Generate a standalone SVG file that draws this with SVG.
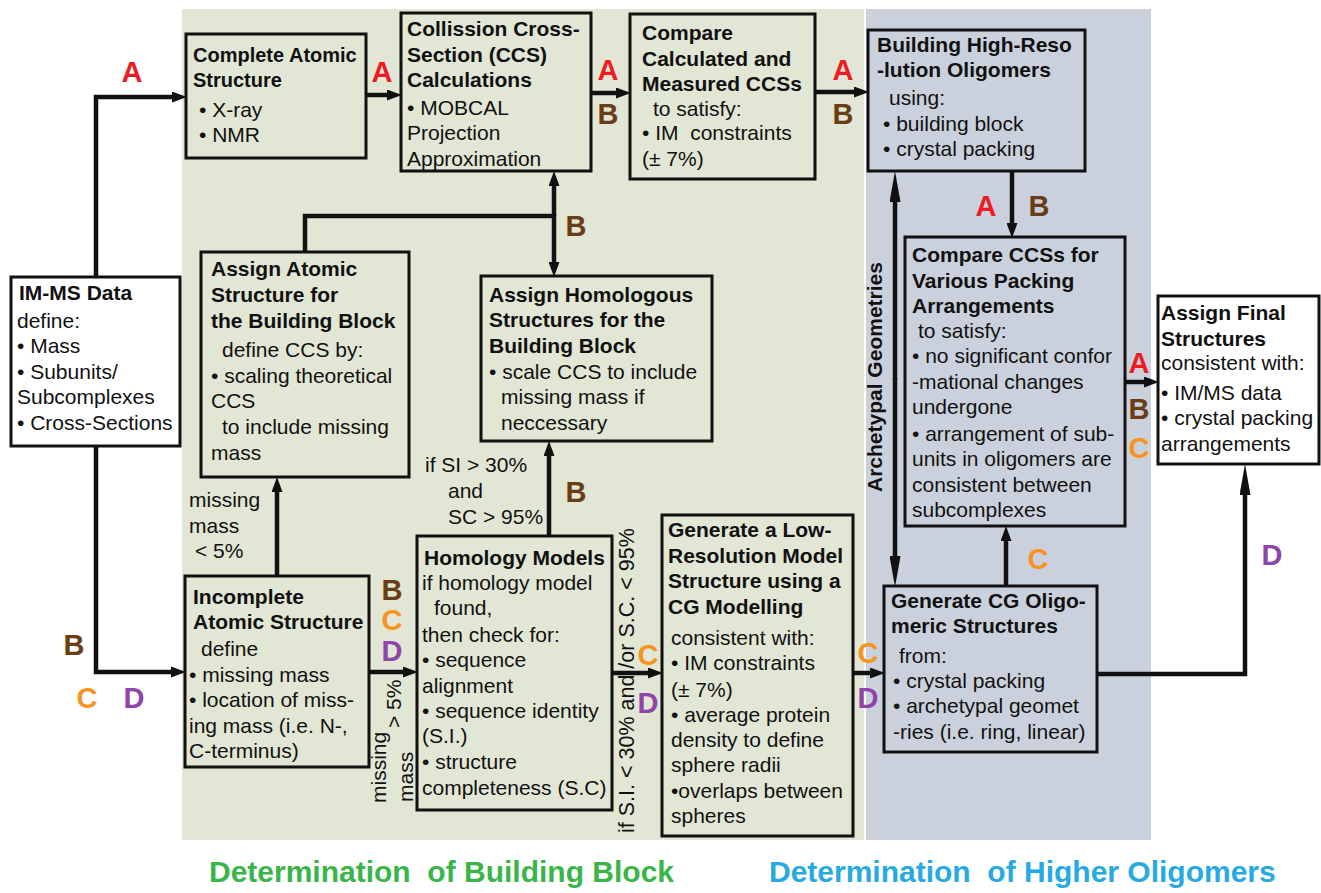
<svg xmlns="http://www.w3.org/2000/svg" width="1321" height="893" viewBox="0 0 1321 893">
<style>
text{font-family:"Liberation Sans",Arial,sans-serif;fill:#111}
.t{font-size:21px;font-weight:bold}
.b{font-size:21px}
.box{stroke:#111;stroke-width:3;fill:none}
.wbox{stroke:#111;stroke-width:3;fill:#fff}
.c{stroke:#111;stroke-width:4.5;fill:none}
.l{font-size:29px;font-weight:bold;text-anchor:middle}
.A{fill:#ed1c24}.B{fill:#6a3d14}.C{fill:#f7941d}.D{fill:#8e44a8}
.big{font-size:30px;font-weight:bold}
</style>
<defs>
<marker id="s" markerUnits="userSpaceOnUse" markerWidth="15" markerHeight="11" refX="0" refY="5.5" orient="auto"><path d="M0,0 L15,5.5 L0,11 z" fill="#111"/></marker>
<marker id="L" markerUnits="userSpaceOnUse" markerWidth="31" markerHeight="11" refX="0" refY="5.5" orient="auto"><path d="M0,0 L31,5.5 L0,11 z" fill="#111"/></marker>
</defs>
<rect width="1321" height="893" fill="#fff"/>
<g id="panels">
<rect x="182" y="9" width="682" height="831" fill="#e2e6d4"/>
<rect x="866" y="9" width="285" height="831" fill="#cbd1dc"/>
</g>
<g id="connectors">
<path class="c" d="M96,277 V97 H172" marker-end="url(#s)"/>
<path class="c" d="M96,446 V672 H171" marker-end="url(#s)"/>
<path class="c" d="M366,95 H387" marker-end="url(#s)"/>
<path class="c" d="M591,93 H616" marker-end="url(#s)"/>
<path class="c" d="M815,92 H854" marker-end="url(#s)"/>
<path class="c" d="M305,252 V216 H554"/>
<path class="c" d="M554,216 V186" marker-end="url(#s)"/>
<path class="c" d="M554,214 V262" marker-end="url(#s)"/>
<path class="c" d="M549,536 V456" marker-end="url(#s)"/>
<path class="c" d="M277,576 V492" marker-end="url(#s)"/>
<path class="c" d="M369,672 H403" marker-end="url(#s)"/>
<path class="c" d="M612,673 H648" marker-end="url(#s)"/>
<path class="c" d="M853,673 H870" marker-end="url(#s)"/>
<path class="c" d="M1012,171 V223" marker-end="url(#s)"/>
<path class="c" d="M1006,586 V541" marker-end="url(#s)"/>
<path class="c" d="M895,380 V202" marker-end="url(#L)"/>
<path class="c" d="M895,378 V556" marker-end="url(#L)"/>
<path class="c" d="M1125,382 H1144" marker-end="url(#s)"/>
<path class="c" d="M1097,674 H1245 V495" marker-end="url(#L)"/>
</g>
<g id="labels">
<text class="l A" x="132" y="82">A</text>
<text class="l A" x="382" y="82">A</text>
<text class="l A" x="608" y="80">A</text>
<text class="l B" x="608" y="124">B</text>
<text class="l A" x="843" y="80">A</text>
<text class="l B" x="843" y="124">B</text>
<text class="l B" x="576" y="236">B</text>
<text class="l A" x="986" y="216">A</text>
<text class="l B" x="1039" y="216">B</text>
<text class="l A" x="1139" y="373">A</text>
<text class="l B" x="1139" y="419">B</text>
<text class="l C" x="1139" y="458">C</text>
<text class="l C" x="1038" y="569">C</text>
<text class="l D" x="1272" y="565">D</text>
<text class="l C" x="868" y="663">C</text>
<text class="l D" x="868" y="708">D</text>
<text class="l C" x="648" y="665">C</text>
<text class="l D" x="648" y="713">D</text>
<text class="l B" x="392" y="600">B</text>
<text class="l C" x="392" y="630">C</text>
<text class="l D" x="392" y="661">D</text>
<text class="l B" x="74" y="655">B</text>
<text class="l C" x="87" y="708">C</text>
<text class="l D" x="134" y="708">D</text>
<text class="l B" x="576" y="502">B</text>
<text class="b" x="189" y="507">missing</text>
<text class="b" x="189" y="533">mass</text>
<text class="b" x="195" y="558">&lt; 5%</text>
<text class="b" x="425" y="472">if SI &gt; 30%</text>
<text class="b" x="448" y="498">and</text>
<text class="b" x="448" y="524">SC &gt; 95%</text>
<text class="b" transform="translate(386,803) rotate(-90)">missing</text>
<text class="b" transform="translate(401,728) rotate(-90)">&gt; 5%</text>
<text class="b" transform="translate(413,802) rotate(-90)">mass</text>
<text class="b" style="font-size:21.5px" transform="translate(634,833) rotate(-90)">if S.I. &lt; 30% and /or S.C. &lt; 95%</text>
<text class="t" transform="translate(882,492) rotate(-90)">Archetypal Geometries</text>
<text class="big" x="209" y="882" fill="#39b54a" style="fill:#39b54a" xml:space="preserve">Determination  of Building Block</text>
<text class="big" x="769" y="882" style="fill:#27aae1" xml:space="preserve">Determination  of Higher Oligomers</text>
</g>
<g id="n-complete">
<rect class="box" x="186" y="34" width="180" height="124"/>
<text class="t" x="193" y="62" style="font-size:20px">Complete Atomic</text>
<text class="t" x="193" y="87" style="font-size:20px">Structure</text>
<text class="b" x="199" y="117">• X-ray</text>
<text class="b" x="199" y="142">• NMR</text>
</g>
<g id="n-ccs">
<rect class="box" x="401" y="13" width="190" height="158"/>
<text class="t" x="407" y="36">Collission Cross-</text>
<text class="t" x="407" y="62">Section (CCS)</text>
<text class="t" x="407" y="87">Calculations</text>
<text class="b" x="407" y="115">• MOBCAL</text>
<text class="b" x="407" y="140">Projection</text>
<text class="b" x="407" y="166">Approximation</text>
</g>
<g id="n-compare">
<rect class="box" x="630" y="14" width="185" height="165"/>
<text class="t" x="642" y="40">Compare</text>
<text class="t" x="642" y="66">Calculated and</text>
<text class="t" x="642" y="91">Measured CCSs</text>
<text class="b" x="653" y="116">to satisfy:</text>
<text class="b" x="642" y="140" xml:space="preserve">• IM  constraints</text>
<text class="b" x="642" y="166">(± 7%)</text>
</g>
<g id="n-building">
<rect class="box" x="868" y="30" width="217" height="141"/>
<text class="t" x="877" y="52">Building High-Reso</text>
<text class="t" x="877" y="77">-lution Oligomers</text>
<text class="b" x="889" y="105">using:</text>
<text class="b" x="883" y="131">• building block</text>
<text class="b" x="883" y="156">• crystal packing</text>
</g>
<g id="n-immsdata">
<rect class="wbox" x="11" y="277" width="169" height="169"/>
<text class="t" x="19" y="300">IM-MS Data</text>
<text class="b" x="17" y="328">define:</text>
<text class="b" x="17" y="353">• Mass</text>
<text class="b" x="17" y="379">• Subunits/</text>
<text class="b" x="17" y="404">Subcomplexes</text>
<text class="b" x="17" y="430">• Cross-Sections</text>
</g>
<g id="n-assign-atomic">
<rect class="box" x="201" y="252" width="208" height="225"/>
<text class="t" x="211" y="276">Assign Atomic</text>
<text class="t" x="211" y="302">Structure for</text>
<text class="t" x="211" y="328">the Building Block</text>
<text class="b" x="222" y="357">define CCS by:</text>
<text class="b" x="211" y="383">• scaling theoretical</text>
<text class="b" x="211" y="408">CCS</text>
<text class="b" x="222" y="434">to include missing</text>
<text class="b" x="211" y="460">mass</text>
</g>
<g id="n-assign-homologous">
<rect class="box" x="481" y="276" width="231" height="165"/>
<text class="t" x="489" y="302">Assign Homologous</text>
<text class="t" x="489" y="327">Structures for the</text>
<text class="t" x="489" y="353">Building Block</text>
<text class="b" x="489" y="379">• scale CCS to include</text>
<text class="b" x="501" y="404">missing mass if</text>
<text class="b" x="501" y="430">neccessary</text>
</g>
<g id="n-compare-packing">
<rect class="box" x="905" y="237" width="220" height="289"/>
<text class="t" x="912" y="262">Compare CCSs for</text>
<text class="t" x="912" y="288">Various Packing</text>
<text class="t" x="912" y="313">Arrangements</text>
<text class="b" x="918" y="338">to satisfy:</text>
<text class="b" x="912" y="363">• no significant confor</text>
<text class="b" x="912" y="389">-mational changes</text>
<text class="b" x="912" y="414">undergone</text>
<text class="b" x="912" y="441">• arrangement of sub-</text>
<text class="b" x="912" y="466">units in oligomers are</text>
<text class="b" x="912" y="492">consistent between</text>
<text class="b" x="912" y="517">subcomplexes</text>
</g>
<g id="n-final">
<rect class="wbox" x="1158" y="296" width="161" height="168"/>
<text class="t" x="1161" y="320">Assign Final</text>
<text class="t" x="1161" y="346">Structures</text>
<text class="b" x="1161" y="370">consistent with:</text>
<text class="b" x="1161" y="400">• IM/MS data</text>
<text class="b" x="1161" y="425">• crystal packing</text>
<text class="b" x="1161" y="451">arrangements</text>
</g>
<g id="n-incomplete">
<rect class="box" x="185" y="576" width="184" height="191"/>
<text class="t" x="193" y="604">Incomplete</text>
<text class="t" x="193" y="629">Atomic Structure</text>
<text class="b" x="201" y="656">define</text>
<text class="b" x="189" y="682">• missing mass</text>
<text class="b" x="189" y="707">• location of miss-</text>
<text class="b" x="189" y="733">ing mass (i.e. N-,</text>
<text class="b" x="189" y="758">C-terminus)</text>
</g>
<g id="n-homology">
<rect class="box" x="417" y="536" width="195" height="274"/>
<text class="t" x="424" y="565">Homology Models</text>
<text class="b" x="422" y="590">if homology model</text>
<text class="b" x="434" y="615">found,</text>
<text class="b" x="422" y="642">then check for:</text>
<text class="b" x="422" y="667">• sequence</text>
<text class="b" x="422" y="693">alignment</text>
<text class="b" x="422" y="718">• sequence identity</text>
<text class="b" x="422" y="743">(S.I.)</text>
<text class="b" x="422" y="769">• structure</text>
<text class="b" x="422" y="795">completeness (S.C)</text>
</g>
<g id="n-lowres">
<rect class="box" x="662" y="515" width="191" height="321"/>
<text class="t" x="668" y="537">Generate a Low-</text>
<text class="t" x="668" y="563">Resolution Model</text>
<text class="t" x="668" y="588">Structure using a</text>
<text class="t" x="668" y="614">CG Modelling</text>
<text class="b" x="671" y="645">consistent with:</text>
<text class="b" x="671" y="670">• IM constraints</text>
<text class="b" x="671" y="697">(± 7%)</text>
<text class="b" x="671" y="722">• average protein</text>
<text class="b" x="671" y="747">density to define</text>
<text class="b" x="671" y="772">sphere radii</text>
<text class="b" x="671" y="798">•overlaps between</text>
<text class="b" x="671" y="823">spheres</text>
</g>
<g id="n-cg">
<rect class="box" x="884" y="586" width="213" height="166"/>
<text class="t" x="891" y="608">Generate CG Oligo-</text>
<text class="t" x="891" y="633">meric Structures</text>
<text class="b" x="899" y="663">from:</text>
<text class="b" x="893" y="688">• crystal packing</text>
<text class="b" x="893" y="713">• archetypal geomet</text>
<text class="b" x="893" y="739">-ries (i.e. ring, linear)</text>
</g>
</svg>
